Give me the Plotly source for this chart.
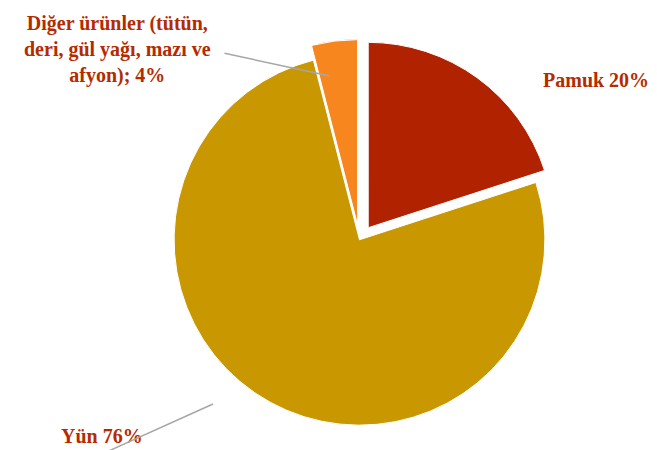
import plotly.graph_objects as go

labels = ["Pamuk", "Yün", "Diğer ürünler (tütün, deri, gül yağı, mazı ve afyon)"]
values = [20, 76, 4]
colors = ["#B02200", "#C99800", "#F7861F"]
pulls = [0.08, 0.0, 0.08]

W, H = 657, 450
def px(x, y):
    return x / W, 1 - y / H

fig = go.Figure()
fig.add_trace(go.Pie(
    labels=labels, values=values, sort=False, direction="clockwise", rotation=0,
    pull=pulls, textinfo="none", hoverinfo="label+percent",
    marker=dict(colors=colors, line=dict(color="white", width=1)),
    domain=dict(x=[0.11, 0.96], y=[0.04, 0.93]), showlegend=False,
))

font = dict(family="Liberation Serif", size=20, color="#B52B00")
ann_text = [
    f"<b>{labels[0]} {values[0]}%</b>",
    f"<b>Yün {values[1]}%</b>",
    "<b>Diğer ürünler (tütün,<br>deri, gül yağı, mazı ve<br>afyon); %d%%</b>" % values[2],
]
annotations = []
for (x, y), t in zip([(588, 72), (94, 428), (109, 41)], ann_text):
    xx, yy = px(x, y)
    annotations.append(dict(x=xx, y=yy, xref="paper", yref="paper", text=t,
                            xanchor="center", yanchor="middle",
                            showarrow=False, font=font, align="center"))
for (x0, y0), (x1, y1) in [((215, 45), (322, 68)), ((85, 450), (205, 396))]:
    a1, b1 = px(x1, y1)
    annotations.append(dict(x=a1, y=b1, ax=x0 - x1, ay=y0 - y1, xref="paper", yref="paper",
                            axref="pixel", ayref="pixel", text="", showarrow=True,
                            arrowhead=0, arrowwidth=1.5, arrowcolor="#A6A6A6"))

fig.update_layout(
    width=W, height=H, margin=dict(l=0, r=0, t=0, b=0),
    paper_bgcolor="white", plot_bgcolor="white",
    annotations=annotations,
)
fig.write_html("out.html")
